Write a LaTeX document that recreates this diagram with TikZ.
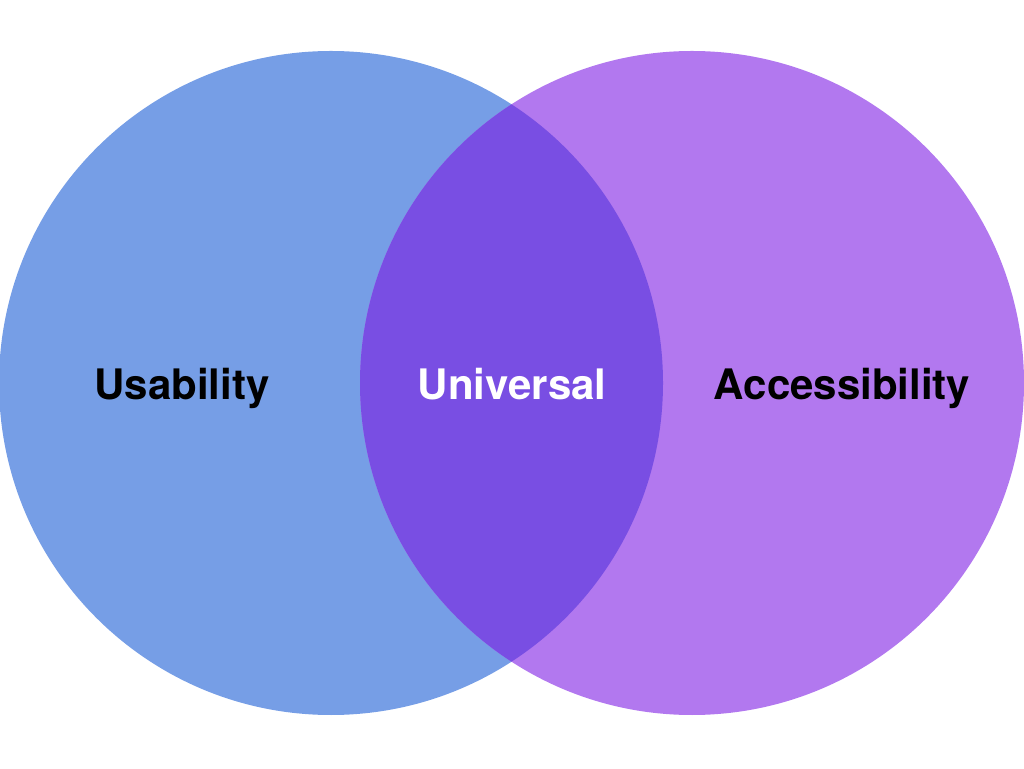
\documentclass[tikz,border=0pt]{standalone}
\usepackage{fontspec}
\setmainfont{TeX Gyre Heros}
\usepackage{tikz}
\usetikzlibrary{positioning}

\definecolor{usablue}{HTML}{769EE6}
\definecolor{accpurple}{HTML}{B278EF}
\definecolor{univiolet}{HTML}{794EE3}

\begin{document}
\begin{tikzpicture}[x=1pt,y=1pt]

\tikzset{set label/.style={
		font=\fontsize{42}{50}\selectfont\bfseries,
		anchor=base,
		inner sep=0pt
	},
	set circle/.style={circle, minimum size=664pt, inner sep=0pt, draw=none}
}
\useasboundingbox (0,0) rectangle (1024,768);

\node[set circle, fill=usablue] (usab) at (331,385) {};
\node[set circle, fill=accpurple] (acc) at (692,385) {};
%intersection
\begin{scope}
	\clip (usab.center) circle (332);
	\fill[univiolet] (acc.center) circle (332);
\end{scope}

\node[set label] (usabtxt) at (182,368) {Usability};
\node[set label, text=white] (univtxt) at (512,368) {Universal};
\node[set label] (acctxt) at (842,368) {Accessibility};
\end{tikzpicture}
\end{document}
